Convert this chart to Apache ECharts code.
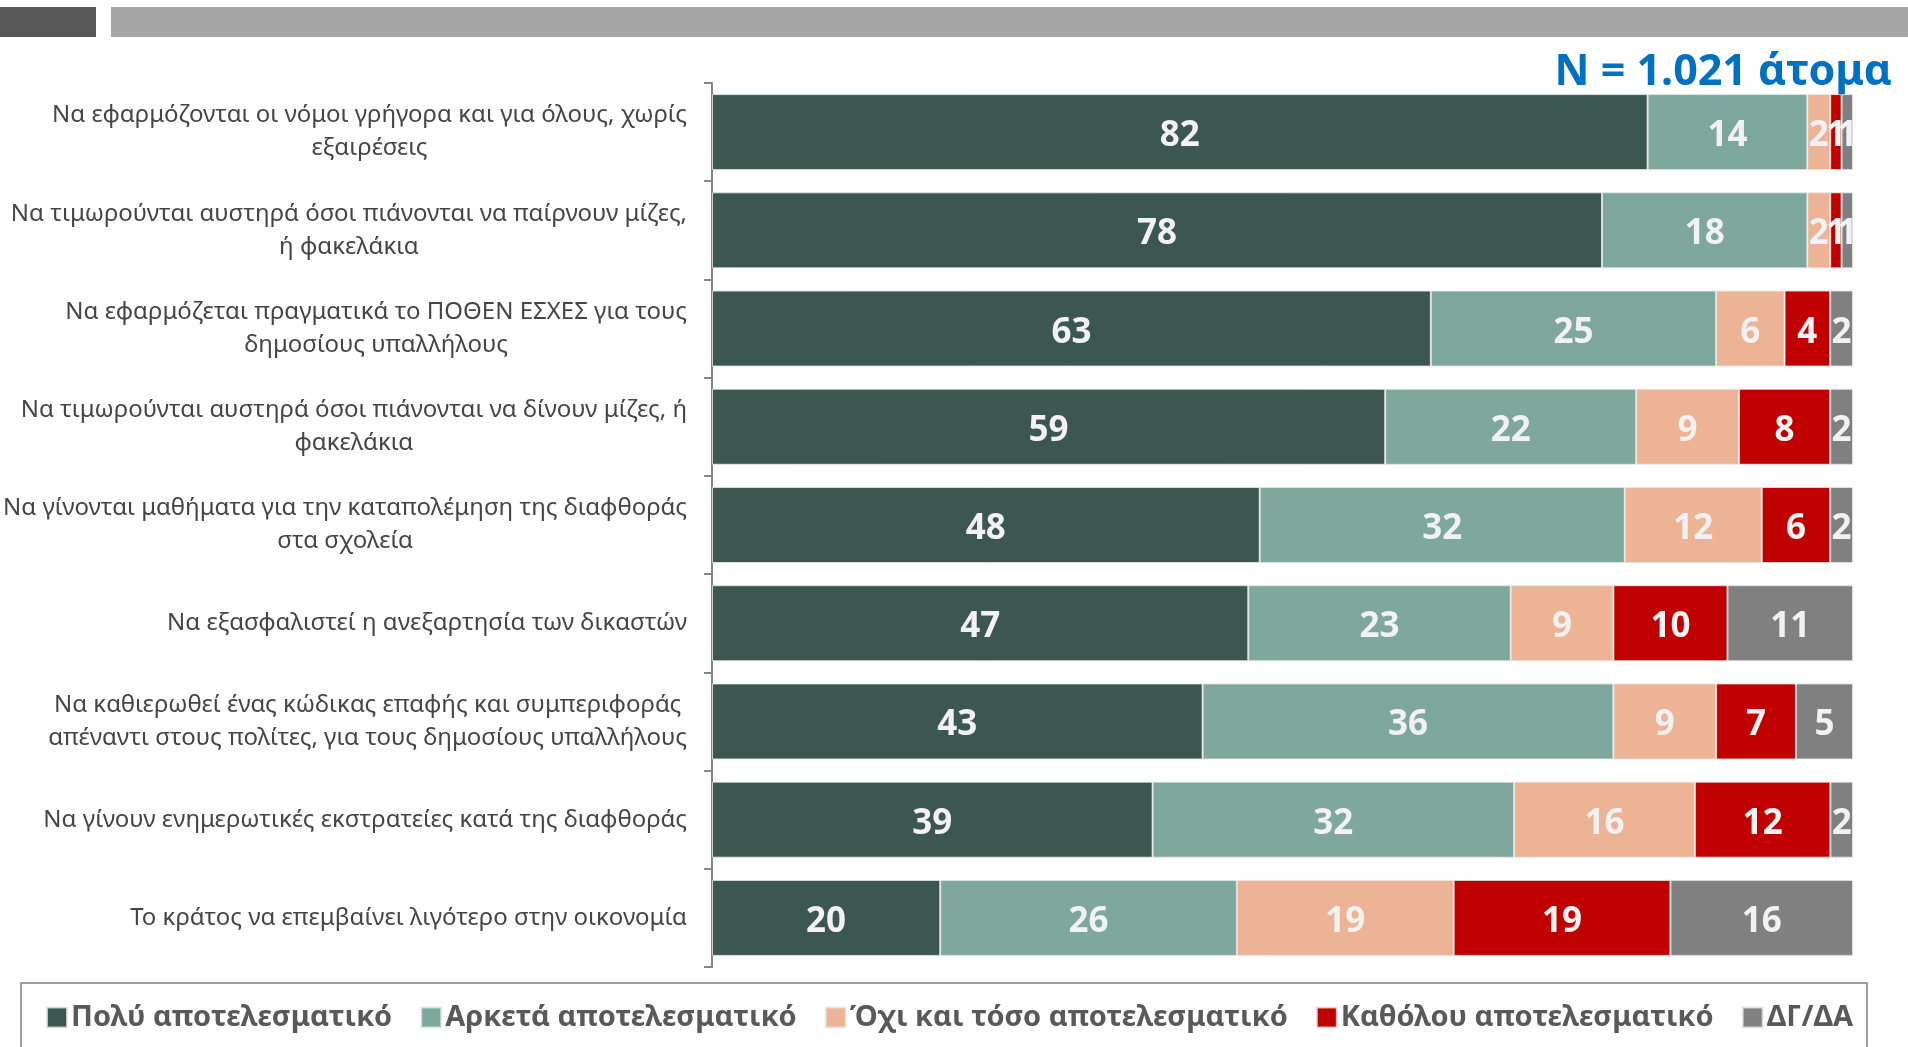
<!DOCTYPE html>
<html>
<head>
<meta charset="utf-8">
<script src="https://cdn.jsdelivr.net/npm/echarts@6/dist/echarts.min.js"></script>
<style>
html,body{margin:0;padding:0;background:#fff;}
#chart{width:1908px;height:1047px;}
</style>
</head>
<body>
<div id="chart"></div>
<script>
const categories = [
  "Να εφαρμόζονται οι νόμοι γρήγορα και για όλους, χωρίς\nεξαιρέσεις",
  "Να τιμωρούνται αυστηρά όσοι πιάνονται να παίρνουν μίζες,\nή φακελάκια",
  "Να εφαρμόζεται πραγματικά το ΠΟΘΕΝ ΕΣΧΕΣ για τους\nδημοσίους υπαλλήλους",
  "Να τιμωρούνται αυστηρά όσοι πιάνονται να δίνουν μίζες, ή\nφακελάκια",
  "Να γίνονται μαθήματα για την καταπολέμηση της διαφθοράς\nστα σχολεία",
  "Να εξασφαλιστεί η ανεξαρτησία των δικαστών",
  "Να καθιερωθεί ένας κώδικας επαφής και συμπεριφοράς\nαπέναντι στους πολίτες, για τους δημοσίους υπαλλήλους",
  "Να γίνουν ενημερωτικές εκστρατείες κατά της διαφθοράς",
  "Το κράτος να επεμβαίνει λιγότερο στην οικονομία"
];
const seriesNames = ["Πολύ αποτελεσματικό", "Αρκετά αποτελεσματικό", "Όχι και τόσο αποτελεσματικό", "Καθόλου αποτελεσματικό", "ΔΓ/ΔΑ"];
const poly    = [82, 78, 63, 59, 48, 47, 43, 39, 20];
const arketa  = [14, 18, 25, 22, 32, 23, 36, 32, 26];
const oxi     = [2, 2, 6, 9, 12, 9, 9, 16, 19];
const katholou= [1, 1, 4, 8, 6, 10, 7, 12, 19];
const dgda    = [1, 1, 2, 2, 2, 11, 5, 2, 16];
const sampleText = "N = 1.021 άτομα";

const colors = ["#3C5750", "#7EA89C", "#EDB395", "#C00000", "#808080"];
const values = [poly, arketa, oxi, katholou, dgda];
const totals = categories.map((c, i) => values.reduce((s, arr) => s + arr[i], 0));

const FONT = "'Noto Sans', 'Open Sans', sans-serif";

const series = values.map((arr, si) => ({
  name: seriesNames[si],
  type: 'bar',
  stack: 'total',
  barWidth: 76,
  itemStyle: { color: colors[si], borderColor: 'rgba(230,230,230,0.8)', borderWidth: 1 },
  label: {
    show: true,
    position: 'inside',
    offset: [0, 4],
    color: '#F2F2F2',
    fontFamily: FONT,
    fontWeight: 'bold',
    fontSize: 35,
    formatter: p => p.data.raw
  },
  emphasis: { disabled: true },
  data: arr.map((v, i) => ({ value: v * 100 / totals[i], raw: v }))
}));

const chart = echarts.init(document.getElementById('chart'), null, { renderer: 'canvas' });
chart.setOption({
  animation: false,
  backgroundColor: '#fff',
  grid: { left: 712, right: 55, top: 83, height: 884, containLabel: false },
  xAxis: {
    type: 'value', min: 0, max: 100, show: false
  },
  yAxis: {
    type: 'category',
    inverse: true,
    data: categories,
    axisLine: { show: true, lineStyle: { color: '#868686', width: 2 } },
    axisTick: { show: true, length: 8, lineStyle: { color: '#868686', width: 2 } },
    axisLabel: {
      margin: 25,
      align: 'right',
      color: '#454545',
      fontFamily: FONT,
      fontSize: 24,
      lineHeight: 33,
      formatter: v => v.split('\n').map(l => '{c|' + l + '}').join('\n'),
      rich: { c: { align: 'center', color: '#454545', fontFamily: FONT, fontSize: 24, lineHeight: 33 } }
    }
  },
  legend: {
    left: 46,
    top: 1003,
    padding: 0,
    itemWidth: 20,
    itemHeight: 20,
    itemGap: 28,
    icon: 'rect',
    selectedMode: false,
    textStyle: { color: '#595959', fontFamily: FONT, fontWeight: 'bold', fontSize: 29, padding: [0, 0, 0, -1] },
    data: seriesNames
  },
  graphic: [
    { type: 'rect', shape: { x: 0, y: 7, width: 96, height: 30 }, style: { fill: '#595959' } },
    { type: 'rect', shape: { x: 111, y: 7, width: 1797, height: 30 }, style: { fill: '#A6A6A6' } },
    { type: 'rect', shape: { x: 21, y: 983, width: 1846, height: 80 }, style: { fill: 'none', stroke: '#A0A0A0', lineWidth: 2 }, z: -1 },
    { type: 'text', x: 1892, y: 94, style: { text: sampleText, fill: '#0070C0', font: "bold 43px 'Noto Sans', sans-serif", textAlign: 'right', textVerticalAlign: 'bottom' } }
  ],
  series: series
});
</script>
</body>
</html>
